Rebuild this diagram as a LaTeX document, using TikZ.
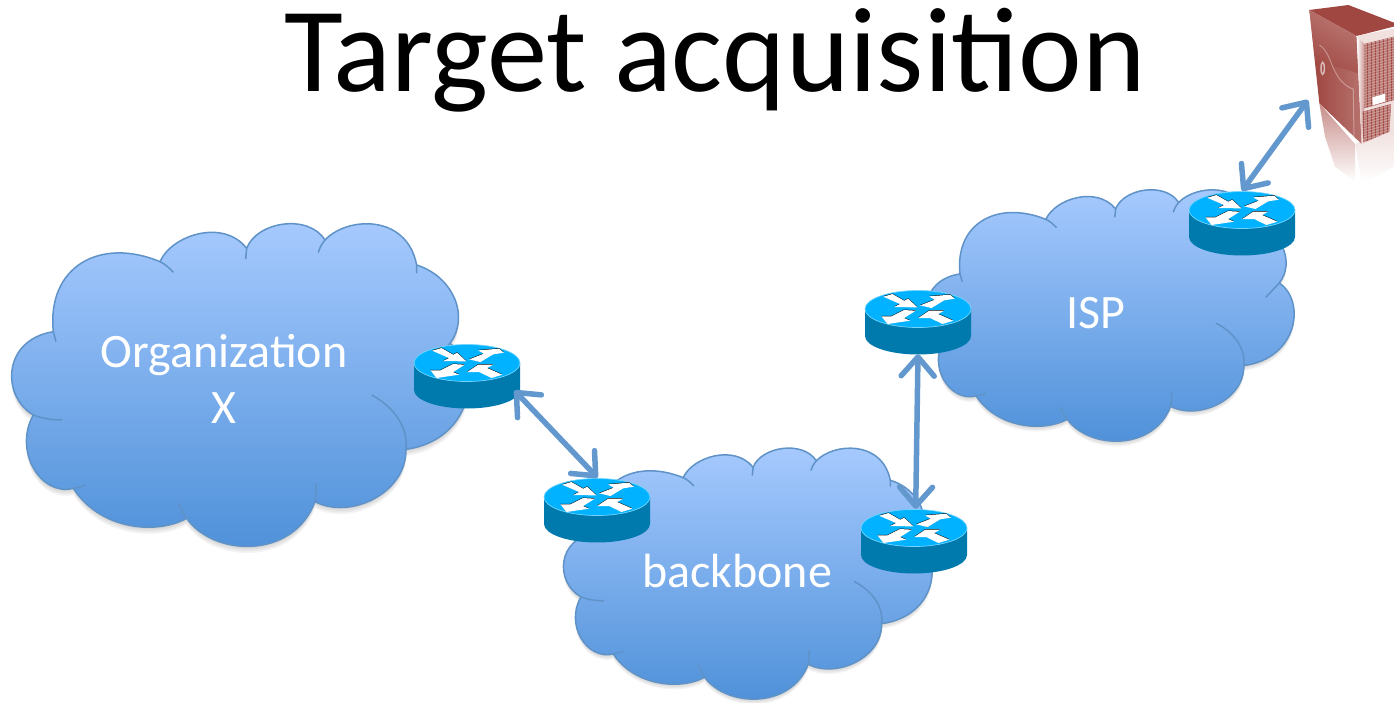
\documentclass[tikz,border=0pt]{standalone}
\usepackage{fontspec}
\setmainfont{Carlito}
\usetikzlibrary{arrows.meta,calc,shapes.geometric}
\definecolor{cloudtop}{HTML}{A8CBFF}
\definecolor{cloudbot}{HTML}{4C8FD8}
\definecolor{cloudline}{HTML}{5F93C8}
\definecolor{linkblue}{HTML}{6398CE}
\definecolor{rtop}{HTML}{00B2FF}
\definecolor{rside}{HTML}{0079AC}
\definecolor{srvdark}{HTML}{9E433D}
\definecolor{srvmid}{HTML}{B9706B}
\definecolor{srvlight}{HTML}{F0E0DE}
\newcommand\cloudoutline{(160,365)
  .. controls (140,170) and (300,80) .. (480,155)
  .. controls (515,75) and (670,25) .. (740,115)
  .. controls (770,35) and (925,10) .. (975,90)
  .. controls (1040,20) and (1220,10) .. (1250,165)
  .. controls (1360,200) and (1410,320) .. (1350,400)
  .. controls (1450,470) and (1420,690) .. (1218,718)
  .. controls (1220,850) and (1050,930) .. (945,875)
  .. controls (880,1050) and (640,1040) .. (560,925)
  .. controls (470,975) and (300,960) .. (220,835)
  .. controls (120,860) and (40,720) .. (100,615)
  .. controls (5,560) and (5,390) .. (160,365) -- cycle}
\newcommand\cloudticks{
  (480,155) .. controls (495,162) and (508,174) .. (520,187)
  (740,115) -- (737,147)
  (975,90) .. controls (965,102) and (958,115) .. (955,128)
  (1250,165) -- (1250,190)
  (160,365) -- (168,395)
  (100,615) .. controls (125,625) and (155,630) .. (186,630)
  (220,835) .. controls (232,833) and (245,830) .. (257,825)
  (560,925) .. controls (550,912) and (542,895) .. (535,878)
  (945,875) .. controls (948,858) and (949,838) .. (948,820)
  (1218,718) .. controls (1225,650) and (1180,590) .. (1115,555)
  (1350,400) -- (1300,455)}
\newcommand\cloudat[4]{%
  \begin{scope}[shift={(#1,#2)},xscale=#3,yscale=#4]
    \foreach \d in {5,10,15,20}
      \fill[black,opacity=.045,shift={(0,\d)}] \cloudoutline;
    \path[cloudfill] \cloudoutline;
    \draw[cloudstroke] \cloudticks;
  \end{scope}}
\tikzset{
  cloudfill/.style={draw=cloudline,line width=1.5pt,top color=cloudtop,bottom color=cloudbot},
  cloudstroke/.style={draw=cloudline,line width=1.5pt},
  routerbox/.style={shape=ellipse,minimum width=106pt,minimum height=64pt,inner sep=0pt},
  link/.style={draw=linkblue,line width=5.5pt,
    {Straight Barb[length=19pt,width=33pt,round]}-{Straight Barb[length=19pt,width=33pt,round]}},
  label/.style={text=white,font=\fontsize{48}{52}\selectfont,anchor=base,inner sep=0pt},
  router/.pic={
    \fill[rside] (-53,-13) -- (-53,14) .. controls (-53,24.2) and (-29.3,32.5) .. (0,32.5) .. controls (29.3,32.5) and (53,24.2) .. (53,14) -- (53,-13) -- cycle;
    \fill[rtop,draw=rtop!55!white,line width=.7pt] (0,-13) ellipse[x radius=53,y radius=18.5];
    \begin{scope}[shift={(-57.2,-37.3)},scale=1/3]
      \foreach \dy/\col in {-1.5/black,0/white}{
        \fill[\col,shift={(0,\dy)}] (67,36)--(95,28)--(130,48)--(142,42)--(170,68)--(100,67)--(118,58)--cycle;
        \fill[\col,shift={(0,\dy)}] (178,62)--(222,45)--(205,35)--(268,30)--(282,42)--(250,47)--(212,70)--cycle;
        \fill[\col,shift={(0,\dy)}] (165,78)--(130,100)--(148,108)--(80,118)--(62,95)--(92,95)--(130,76)--cycle;
        \fill[\col,shift={(0,\dy)}] (172,100)--(205,78)--(250,78)--(232,88)--(278,108)--(245,118)--(208,100)--cycle;
      }
    \end{scope}
  }
}
\begin{document}
\begin{tikzpicture}[x=1pt,y=-1pt]
\useasboundingbox (0,0) rectangle (1394,703);
% clouds
\cloudat{0}{210}{.33333}{.33333}
\cloudat{554.05}{437.44}{.269}{.2593}
\cloudat{917.07}{179.1}{.2683}{.2597}
% title and labels
\node[anchor=base,inner sep=0pt,font=\fontsize{120.5}{130}\selectfont,text=black] (title) at (715,92) {Target acquisition};
\node[label] (orgname) at (224,367) {Organization};
\node[label] (orgx) at (224,423) {X};
\node[label] (backbonename) at (737,587) {backbone};
\node[label] (ispname) at (1096,328) {ISP};
% server
\begin{scope}[shift={(1290,0)},scale=1/3]
  \clip (0,0) rectangle (312,570);
  \shade[top color=srvmid!80!white,bottom color=white] (88,310)--(195,432)--(195,545)--(135,500)--(105,410)--cycle;
  \shade[top color=srvlight,bottom color=white] (195,432)--(312,385)--(312,500)--(215,550)--cycle;
  \fill[srvdark!90!srvmid] (58,30)--(175,15)--(330,75)--(200,108)--cycle;
  \shade[left color=srvdark,right color=srvdark!75!white] (58,30)--(200,108)--(215,432)--(88,310)--cycle;
  \shade[top color=srvmid!70!srvlight,bottom color=srvdark,opacity=.55] (58,30)--(200,108)--(205,220)--(75,180)--cycle;
  \draw[white,opacity=.35,line width=1pt] (88,135) .. controls (130,160) and (120,240) .. (190,268) -- (192,420);
  \draw[white,opacity=.6,line width=1.5pt] (98,205) ellipse[x radius=5,y radius=18];
  \fill[srvlight] (200,108)--(330,82)--(330,380)--(215,432)--cycle;
  \shade[left color=white,right color=srvmid!70!white] (200,108)--(222,130)--(222,330)--(215,432)--cycle;
  \begin{scope}
    \clip (222,132)--(320,108)--(320,298)--(222,325)--cycle;
    \fill[srvdark] (210,100) rectangle (320,330);
    \foreach \i in {0,...,24}{
      \draw[white,opacity=.3,line width=.8pt] (222+4*\i,100) -- (222+4*\i,340);
      \draw[white,opacity=.3,line width=.8pt] (215,136+8*\i) -- (320,110+8*\i);
    }
  \end{scope}
  \begin{scope}
    \clip (218,335)--(303,312)--(298,395)--(220,428)--cycle;
    \fill[srvdark] (210,300) rectangle (320,440);
    \foreach \i in {0,...,24}{
      \draw[white,opacity=.3,line width=.8pt] (218+4*\i,300) -- (218+4*\i,440);
      \draw[white,opacity=.3,line width=.8pt] (215,340+8*\i) -- (320,312+8*\i);
    }
  \end{scope}
  \fill[white] (247,292)--(285,281)--(285,305)--(248,316)--cycle;
\end{scope}
\coordinate (serverport) at (1308,100);
% routers
\node[routerbox] (r1) at (467,376) {};
\node[routerbox] (r2) at (597,510) {};
\node[routerbox] (r3) at (914,541) {};
\node[routerbox] (r4) at (918,322) {};
\node[routerbox] (r5) at (1242,223) {};
\pic at (r1) {router};
\pic at (r2) {router};
\pic at (r3) {router};
\pic at (r4) {router};
\pic at (r5) {router};
% connectors
\draw[link] (r1.-17) -- (r2.89);
\draw[link] (r3.87) -- (r4.270);
\draw[link] (r5.90) -- (serverport);
\end{tikzpicture}
\end{document}
